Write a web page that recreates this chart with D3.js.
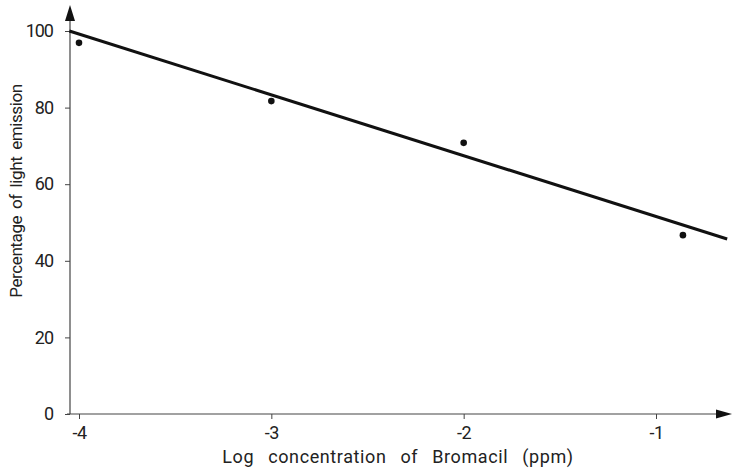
<!DOCTYPE html>
<html>
<head>
<meta charset="utf-8">
<script src="https://cdn.jsdelivr.net/npm/d3@7"></script>
<style>
  body { margin: 0; background: #fff; }
  text { font-family: Roboto, "DejaVu Sans", sans-serif; fill: #222; }
</style>
</head>
<body>
<svg id="chart" width="732" height="469"></svg>
<script>
// values
var pointX = [-4, -3, -2, -0.86];
var pointY = [96.9, 81.7, 70.8, 46.7];
var lineX = [-4.05, -0.63];
var lineY = [100, 45.7];
var xTicks = [-4, -3, -2, -1];
var yTicks = [0, 20, 40, 60, 80, 100];
var xTitle = "Log concentration of Bromacil (ppm)";
var yTitle = "Percentage of light emission";

var svg = d3.select("#chart");

var x = d3.scaleLinear().domain([-4, -1]).range([79, 656]);
var y = d3.scaleLinear().domain([0, 100]).range([414, 31]);

var axisX0 = x.invert(70); // where the y axis sits

// y axis
var gy = svg.append("g")
    .attr("transform", "translate(" + x(axisX0) + ",0)")
    .call(d3.axisLeft(y).tickValues(yTicks).tickSize(5).tickSizeOuter(0).tickPadding(12));
gy.select(".domain").remove();
gy.selectAll(".tick line").attr("stroke", "#444");
gy.selectAll(".tick text")
    .attr("font-size", 18).attr("letter-spacing", -1)
    .attr("fill", "#222").attr("font-family", "Roboto, sans-serif");
svg.append("line")
    .attr("x1", x(axisX0)).attr("x2", x(axisX0))
    .attr("y1", y(0)).attr("y2", 14)
    .attr("stroke", "#444").attr("stroke-width", 1.2);
svg.append("path")
    .attr("d", "M" + (x(axisX0) - 5) + ",21 L" + x(axisX0) + ",5 L" + (x(axisX0) + 5) + ",21 Z")
    .attr("fill", "#111");

// x axis
var gx = svg.append("g")
    .attr("transform", "translate(0," + y(0) + ")")
    .call(d3.axisBottom(x).tickValues(xTicks).tickSize(5).tickSizeOuter(0).tickPadding(7)
        .tickFormat(function(d) { return d3.format("d")(d).replace("\u2212", "-"); }));
gx.select(".domain").remove();
gx.selectAll(".tick line").attr("stroke", "#444");
gx.selectAll(".tick text")
    .attr("font-size", 18).attr("letter-spacing", -0.5)
    .attr("fill", "#222").attr("font-family", "Roboto, sans-serif");
svg.append("line")
    .attr("x1", 67).attr("x2", 720)
    .attr("y1", y(0)).attr("y2", y(0))
    .attr("stroke", "#444").attr("stroke-width", 1.2);
svg.append("path")
    .attr("d", "M716," + (y(0) - 4.5) + " L732," + y(0) + " L716," + (y(0) + 4.5) + " Z")
    .attr("fill", "#111");

// titles
svg.append("text")
    .attr("x", 398).attr("y", 463)
    .attr("text-anchor", "middle")
    .attr("font-size", 18)
    .attr("letter-spacing", 0.6)
    .attr("word-spacing", 9)
    .text(xTitle);

svg.append("text")
    .attr("transform", "translate(22,191) rotate(-90)")
    .attr("text-anchor", "middle")
    .attr("font-size", 17)
    .attr("letter-spacing", -0.4)
    .attr("word-spacing", 3)
    .text(yTitle);

// regression line
var line = d3.line()
    .x(function(d) { return x(d[0]); })
    .y(function(d) { return y(d[1]); });
svg.append("path")
    .datum(d3.zip(lineX, lineY))
    .attr("d", line)
    .attr("fill", "none")
    .attr("stroke", "#111")
    .attr("stroke-width", 3);

// points
svg.selectAll(".pt")
    .data(d3.zip(pointX, pointY))
    .enter().append("circle")
    .attr("class", "pt")
    .attr("cx", function(d) { return x(d[0]); })
    .attr("cy", function(d) { return y(d[1]); })
    .attr("r", 3.3)
    .attr("fill", "#111");
</script>
</body>
</html>
